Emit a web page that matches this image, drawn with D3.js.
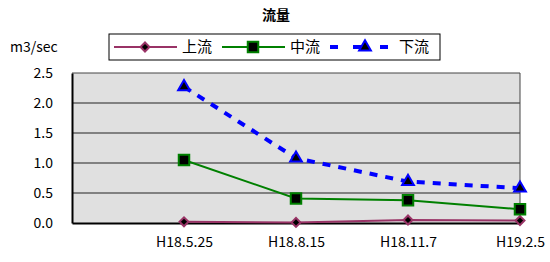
<!DOCTYPE html>
<html>
<head>
<meta charset="utf-8">
<script src="https://cdn.jsdelivr.net/npm/d3@7"></script>
<style>
  body { margin: 0; background: #fff; }
  text { font-family: "Noto Sans CJK JP", "Noto Sans", sans-serif; fill: #000; }
</style>
</head>
<body>
<svg id="chart" width="550" height="262"></svg>
<script>
// category labels (first slot is empty, as in the original sheet)
const dates = ["", "H18.5.25", "H18.8.15", "H18.11.7", "H19.2.5"];
const upstream = [0.02, 0.01, 0.05, 0.04];   // 上流
const midstream = [1.05, 0.41, 0.38, 0.23];  // 中流
const downstream = [2.27, 1.08, 0.69, 0.58]; // 下流
const yTicks = [0, 0.5, 1.0, 1.5, 2.0, 2.5];

const series = [
  { name: "上流", values: upstream, color: "#993366", symbol: d3.symbolSquare, size: 40, rot: 45, dash: null },
  { name: "中流", values: midstream, color: "#008000", symbol: d3.symbolSquare, size: 110, rot: 0, dash: null },
  { name: "下流", values: downstream, color: "#0000ff", symbol: d3.symbolTriangle, size: 60, rot: 0, dash: "8,8" }
];

const svg = d3.select("#chart");
const margin = { top: 73, right: 30, bottom: 39, left: 72 };
const width = 550 - margin.left - margin.right;
const height = 262 - margin.top - margin.bottom;

const x = d3.scalePoint().domain(dates).range([0, width]);
const y = d3.scaleLinear().domain([0, 2.5]).range([height, 0]);

const g = svg.append("g").attr("transform", `translate(${margin.left},${margin.top})`);

// plot area
g.append("rect")
  .attr("width", width).attr("height", height)
  .attr("fill", "#e0e0e0");

// gridlines
g.selectAll(".grid").data(yTicks.slice(1, -1)).join("line")
  .attr("x1", 0).attr("x2", width)
  .attr("y1", d => y(d)).attr("y2", d => y(d))
  .attr("stroke", "#222").attr("stroke-width", 1);

// frame top/right
g.append("path")
  .attr("d", `M0,0H${width}V${height}`)
  .attr("fill", "none").attr("stroke", "#444").attr("stroke-width", 1);

// y axis
const yAxis = g.append("g").call(d3.axisLeft(y).tickValues(yTicks).tickFormat(d3.format(".1f")).tickSize(0).tickPadding(19));
yAxis.select(".domain").attr("stroke", "#000").attr("stroke-width", 2);
yAxis.selectAll("text").style("font-size", "14px").attr("dy", "0.35em");

// x axis
const xAxis = g.append("g").attr("transform", `translate(0,${height})`)
  .call(d3.axisBottom(x).tickSize(0).tickPadding(14));
xAxis.select(".domain").attr("stroke", "#000").attr("stroke-width", 2);
xAxis.selectAll("text").style("font-size", "14px");

// lines
const line = d3.line().x((d, i) => x(dates[i + 1])).y(d => y(d));
series.forEach(s => {
  g.append("path").datum(s.values)
    .attr("d", line)
    .attr("fill", "none")
    .attr("stroke", s.color)
    .attr("stroke-width", s.dash ? 4 : 2)
    .attr("stroke-dasharray", s.dash);
});
series.forEach(s => {
  g.selectAll(null).data(s.values).join("path")
    .attr("d", d3.symbol(s.symbol, s.size))
    .attr("transform", (d, i) => `translate(${x(dates[i + 1])},${y(d)}) rotate(${s.rot})`)
    .attr("fill", "#000")
    .attr("stroke", s.color)
    .attr("stroke-width", 2);
});

// title and unit
svg.append("text").attr("x", 276).attr("y", 20).attr("text-anchor", "middle")
  .style("font-size", "14px").style("font-weight", "bold").text("流量");
svg.append("text").attr("x", 10).attr("y", 52).style("font-size", "14px").text("m3/sec");

// legend
const lg = svg.append("g").attr("transform", "translate(109,34)");
lg.append("rect").attr("width", 331).attr("height", 26)
  .attr("fill", "#fff").attr("stroke", "#000").attr("stroke-width", 1);
const legendPos = [5, 113, 221];
series.forEach((s, i) => {
  const item = lg.append("g").attr("transform", `translate(${legendPos[i]},13)`);
  item.append("line").attr("x1", 0).attr("x2", 63).attr("y1", 0).attr("y2", 0)
    .attr("stroke", s.color).attr("stroke-width", s.dash ? 4 : 2)
    .attr("stroke-dasharray", s.dash ? "8,15,12,15" : null);
  item.append("path").attr("d", d3.symbol(s.symbol, s.size)())
    .attr("transform", `translate(${s.dash ? 35 : 31},0) rotate(${s.rot})`)
    .attr("fill", "#000").attr("stroke", s.color).attr("stroke-width", 2);
  item.append("text").attr("x", s.dash ? 69 : 68).attr("y", 0).attr("dy", "0.35em")
    .style("font-size", "15px").text(s.name);
});
</script>
</body>
</html>
